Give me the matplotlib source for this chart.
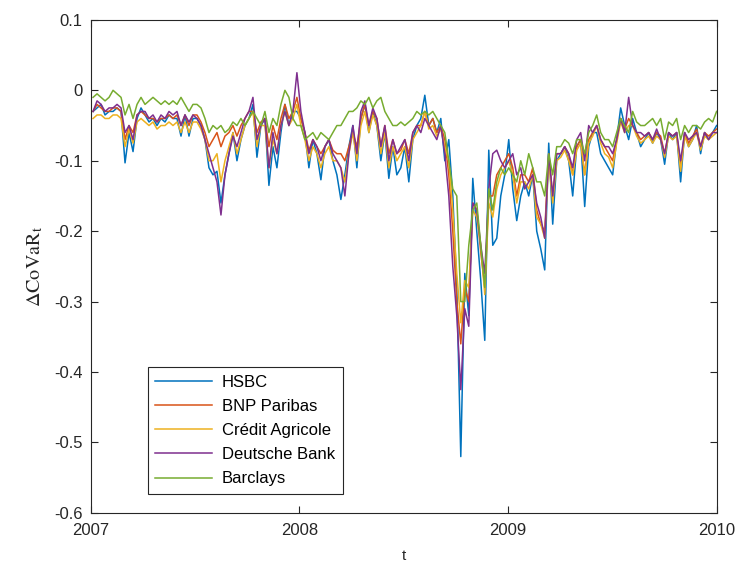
import matplotlib
matplotlib.use("Agg")
import matplotlib.pyplot as plt
import pandas as pd
import numpy as np

plt.rcParams["axes.unicode_minus"] = False
plt.rcParams["mathtext.fontset"] = "stix"
plt.rcParams["font.family"] = ["Liberation Sans", "DejaVu Sans"]

# weekly observations 2007-2009
dates = pd.date_range("2007-01-05", periods=157, freq="7D")

hsbc = [
    -0.03, -0.025, -0.02, -0.035, -0.03, -0.03, -0.025, -0.03, -0.103, -0.06, -0.087, -0.04, -0.025,
    -0.035, -0.045, -0.04, -0.05, -0.04, -0.045, -0.035, -0.04, -0.04, -0.065, -0.035, -0.065, -0.04,
    -0.04, -0.05, -0.07, -0.11, -0.12, -0.115, -0.16, -0.12, -0.09, -0.06, -0.10, -0.07, -0.05,
    -0.04, -0.02, -0.095, -0.05, -0.04, -0.135, -0.08, -0.11, -0.06, -0.02, -0.05, -0.03, -0.03,
    -0.04, -0.06, -0.11, -0.07, -0.09, -0.127, -0.08, -0.07, -0.10, -0.12, -0.155, -0.12, -0.08,
    -0.05, -0.11, -0.04, -0.02, -0.06, -0.03, -0.05, -0.10, -0.06, -0.125, -0.08, -0.12, -0.11,
    -0.08, -0.13, -0.07, -0.05, -0.04, -0.007, -0.05, -0.04, -0.06, -0.04, -0.10, -0.07, -0.15,
    -0.28, -0.52, -0.26, -0.32, -0.125, -0.20, -0.27, -0.355, -0.085, -0.22, -0.21, -0.15, -0.12,
    -0.07, -0.14, -0.185, -0.15, -0.13, -0.15, -0.12, -0.20, -0.225, -0.255, -0.075, -0.19, -0.10,
    -0.09, -0.08, -0.10, -0.15, -0.08, -0.07, -0.165, -0.08, -0.06, -0.06, -0.09, -0.10, -0.11,
    -0.12, -0.07, -0.025, -0.05, -0.07, -0.04, -0.06, -0.08, -0.07, -0.06, -0.075, -0.06, -0.07,
    -0.105, -0.06, -0.07, -0.06, -0.13, -0.06, -0.08, -0.07, -0.05, -0.09, -0.06, -0.07, -0.06, -0.05,
]

bnp = [
    -0.03, -0.02, -0.025, -0.03, -0.03, -0.025, -0.025, -0.03, -0.07, -0.05, -0.06, -0.035, -0.03,
    -0.035, -0.04, -0.04, -0.045, -0.04, -0.04, -0.035, -0.04, -0.035, -0.05, -0.035, -0.05, -0.035,
    -0.035, -0.045, -0.06, -0.08, -0.07, -0.06, -0.08, -0.065, -0.06, -0.05, -0.065, -0.05, -0.04,
    -0.03, -0.03, -0.06, -0.045, -0.04, -0.08, -0.05, -0.07, -0.04, -0.02, -0.04, -0.03, -0.01,
    -0.04, -0.06, -0.085, -0.07, -0.08, -0.09, -0.08, -0.07, -0.085, -0.09, -0.09, -0.10, -0.08,
    -0.06, -0.08, -0.04, -0.02, -0.05, -0.03, -0.04, -0.08, -0.05, -0.09, -0.07, -0.09, -0.085,
    -0.07, -0.09, -0.06, -0.05, -0.05, -0.03, -0.05, -0.04, -0.06, -0.05, -0.07, -0.12, -0.20,
    -0.30, -0.36, -0.28, -0.30, -0.16, -0.17, -0.23, -0.28, -0.15, -0.15, -0.12, -0.11, -0.10,
    -0.09, -0.11, -0.15, -0.12, -0.12, -0.13, -0.11, -0.17, -0.19, -0.20, -0.09, -0.15, -0.09,
    -0.09, -0.08, -0.09, -0.12, -0.08, -0.07, -0.12, -0.07, -0.06, -0.05, -0.07, -0.08, -0.09,
    -0.10, -0.07, -0.04, -0.055, -0.04, -0.05, -0.06, -0.07, -0.065, -0.06, -0.07, -0.06, -0.065,
    -0.09, -0.06, -0.065, -0.06, -0.11, -0.06, -0.075, -0.065, -0.055, -0.08, -0.06, -0.065, -0.06, -0.055,
]

credit_agricole = [
    -0.04, -0.035, -0.035, -0.04, -0.04, -0.035, -0.035, -0.04, -0.08, -0.055, -0.075, -0.045, -0.04,
    -0.045, -0.05, -0.045, -0.055, -0.05, -0.05, -0.045, -0.05, -0.045, -0.06, -0.045, -0.06, -0.045,
    -0.045, -0.055, -0.07, -0.10, -0.10, -0.09, -0.13, -0.10, -0.08, -0.06, -0.09, -0.07, -0.05,
    -0.04, -0.03, -0.08, -0.05, -0.05, -0.11, -0.07, -0.09, -0.05, -0.03, -0.05, -0.04, -0.02,
    -0.05, -0.07, -0.10, -0.08, -0.09, -0.11, -0.09, -0.08, -0.10, -0.10, -0.11, -0.13, -0.09,
    -0.06, -0.10, -0.05, -0.03, -0.06, -0.035, -0.05, -0.09, -0.06, -0.11, -0.08, -0.10, -0.09,
    -0.08, -0.11, -0.07, -0.06, -0.05, -0.03, -0.055, -0.05, -0.065, -0.055, -0.08, -0.10, -0.17,
    -0.26, -0.33, -0.27, -0.28, -0.17, -0.18, -0.22, -0.29, -0.16, -0.18, -0.14, -0.12, -0.11,
    -0.10, -0.12, -0.16, -0.13, -0.13, -0.14, -0.12, -0.18, -0.19, -0.21, -0.10, -0.16, -0.10,
    -0.095, -0.085, -0.10, -0.12, -0.085, -0.075, -0.12, -0.075, -0.065, -0.05, -0.075, -0.09, -0.095,
    -0.11, -0.075, -0.045, -0.06, -0.05, -0.05, -0.065, -0.075, -0.07, -0.065, -0.075, -0.065, -0.07,
    -0.095, -0.065, -0.07, -0.065, -0.115, -0.065, -0.08, -0.07, -0.06, -0.085, -0.065, -0.07, -0.065, -0.06,
]

deutsche = [
    -0.03, -0.015, -0.02, -0.03, -0.025, -0.025, -0.02, -0.025, -0.06, -0.05, -0.07, -0.035, -0.03,
    -0.03, -0.04, -0.035, -0.045, -0.035, -0.04, -0.03, -0.035, -0.03, -0.05, -0.035, -0.045, -0.035,
    -0.04, -0.05, -0.07, -0.09, -0.11, -0.13, -0.177, -0.12, -0.09, -0.065, -0.08, -0.06, -0.04,
    -0.03, -0.01, -0.07, -0.05, -0.04, -0.11, -0.06, -0.09, -0.05, -0.03, -0.05, -0.03, 0.025,
    -0.03, -0.06, -0.09, -0.07, -0.08, -0.10, -0.08, -0.07, -0.09, -0.10, -0.11, -0.15, -0.09,
    -0.05, -0.09, -0.03, -0.015, -0.05, -0.025, -0.04, -0.08, -0.05, -0.10, -0.07, -0.09, -0.08,
    -0.07, -0.10, -0.06, -0.05, -0.06, -0.04, -0.05, -0.06, -0.07, -0.05, -0.09, -0.15, -0.25,
    -0.32, -0.425, -0.31, -0.335, -0.16, -0.17, -0.22, -0.26, -0.14, -0.09, -0.085, -0.10, -0.11,
    -0.10, -0.09, -0.12, -0.11, -0.14, -0.13, -0.12, -0.16, -0.18, -0.21, -0.09, -0.15, -0.09,
    -0.09, -0.08, -0.09, -0.11, -0.07, -0.06, -0.10, -0.05, -0.06, -0.05, -0.07, -0.08, -0.08,
    -0.09, -0.07, -0.04, -0.06, -0.01, -0.05, -0.06, -0.06, -0.065, -0.06, -0.07, -0.055, -0.07,
    -0.09, -0.06, -0.065, -0.06, -0.10, -0.06, -0.07, -0.065, -0.06, -0.08, -0.06, -0.07, -0.06, -0.06,
]

barclays = [
    -0.01, -0.005, -0.01, -0.015, -0.01, 0.0, -0.005, -0.01, -0.035, -0.02, -0.04, -0.02, -0.01,
    -0.02, -0.015, -0.01, -0.015, -0.02, -0.015, -0.02, -0.015, -0.02, -0.01, -0.02, -0.03, -0.02,
    -0.02, -0.025, -0.04, -0.06, -0.05, -0.055, -0.05, -0.06, -0.055, -0.045, -0.05, -0.04, -0.05,
    -0.04, -0.03, -0.04, -0.05, -0.03, -0.06, -0.04, -0.05, -0.02, 0.0, -0.01, -0.04, -0.05,
    -0.05, -0.07, -0.065, -0.06, -0.07, -0.06, -0.065, -0.07, -0.06, -0.05, -0.05, -0.04, -0.03,
    -0.03, -0.025, -0.015, -0.02, -0.01, -0.025, -0.015, -0.01, -0.03, -0.04, -0.05, -0.05, -0.045,
    -0.05, -0.045, -0.04, -0.03, -0.035, -0.03, -0.035, -0.03, -0.04, -0.05, -0.06, -0.10, -0.14,
    -0.15, -0.30, -0.30, -0.22, -0.17, -0.16, -0.22, -0.28, -0.14, -0.17, -0.13, -0.11, -0.12,
    -0.11, -0.12, -0.13, -0.10, -0.12, -0.09, -0.11, -0.13, -0.13, -0.15, -0.09, -0.12, -0.08,
    -0.08, -0.07, -0.075, -0.09, -0.07, -0.07, -0.09, -0.06, -0.05, -0.035, -0.06, -0.07, -0.07,
    -0.08, -0.06, -0.04, -0.05, -0.06, -0.03, -0.045, -0.05, -0.05, -0.045, -0.04, -0.05, -0.04,
    -0.07, -0.045, -0.05, -0.04, -0.07, -0.05, -0.06, -0.05, -0.05, -0.055, -0.045, -0.04, -0.045, -0.03,
]

names = ["HSBC", "BNP Paribas", "Crédit Agricole", "Deutsche Bank", "Barclays"]
series = [hsbc, bnp, credit_agricole, deutsche, barclays]
colors = ["#0072BD", "#D95319", "#EDB120", "#7E2F8E", "#77AC30"]

year_ticks = [2007, 2008, 2009, 2010]
y_ticks = [-0.6, -0.5, -0.4, -0.3, -0.2, -0.1, 0, 0.1]

fig = plt.figure(figsize=(7.38, 5.68), dpi=100)
ax = fig.add_axes([0.123, 0.097, 0.848, 0.868])

for s, name, c in zip(series, names, colors):
    assert len(s) == len(dates)
    ax.plot(dates, s, color=c, lw=1.1, label=name)

ax.set_xlim(pd.Timestamp("2007-01-01"), pd.Timestamp("2010-01-01"))
ax.set_xticks([pd.Timestamp(f"{y}-01-01") for y in year_ticks])
ax.set_xticklabels([str(y) for y in year_ticks])
ax.set_ylim(-0.6, 0.1)
ax.set_yticks(y_ticks)
ax.set_yticklabels(["%g" % v for v in y_ticks])

ax.tick_params(direction="in", top=True, right=True, length=5, width=0.8,
               labelsize=12, colors="#262626")
ax.tick_params(axis="x", pad=7)
ax.tick_params(axis="y", pad=6)
for sp in ax.spines.values():
    sp.set_color("#262626")
    sp.set_linewidth(0.8)

ax.set_xlabel("t", fontsize=11, color="#262626", labelpad=8)
ax.set_ylabel(r"$\Delta\mathrm{CoVaR}_\mathrm{t}$", fontsize=14.5, color="#262626", labelpad=6)

leg = ax.legend(loc="lower left", bbox_to_anchor=(0.091, 0.0385), borderaxespad=0,
                fancybox=False, edgecolor="#262626", framealpha=1, fontsize=12,
                handlelength=3.4, handletextpad=0.6, labelspacing=0.55, borderpad=0.45)
leg.get_frame().set_linewidth(0.8)

fig.savefig("out.png", dpi=100)
